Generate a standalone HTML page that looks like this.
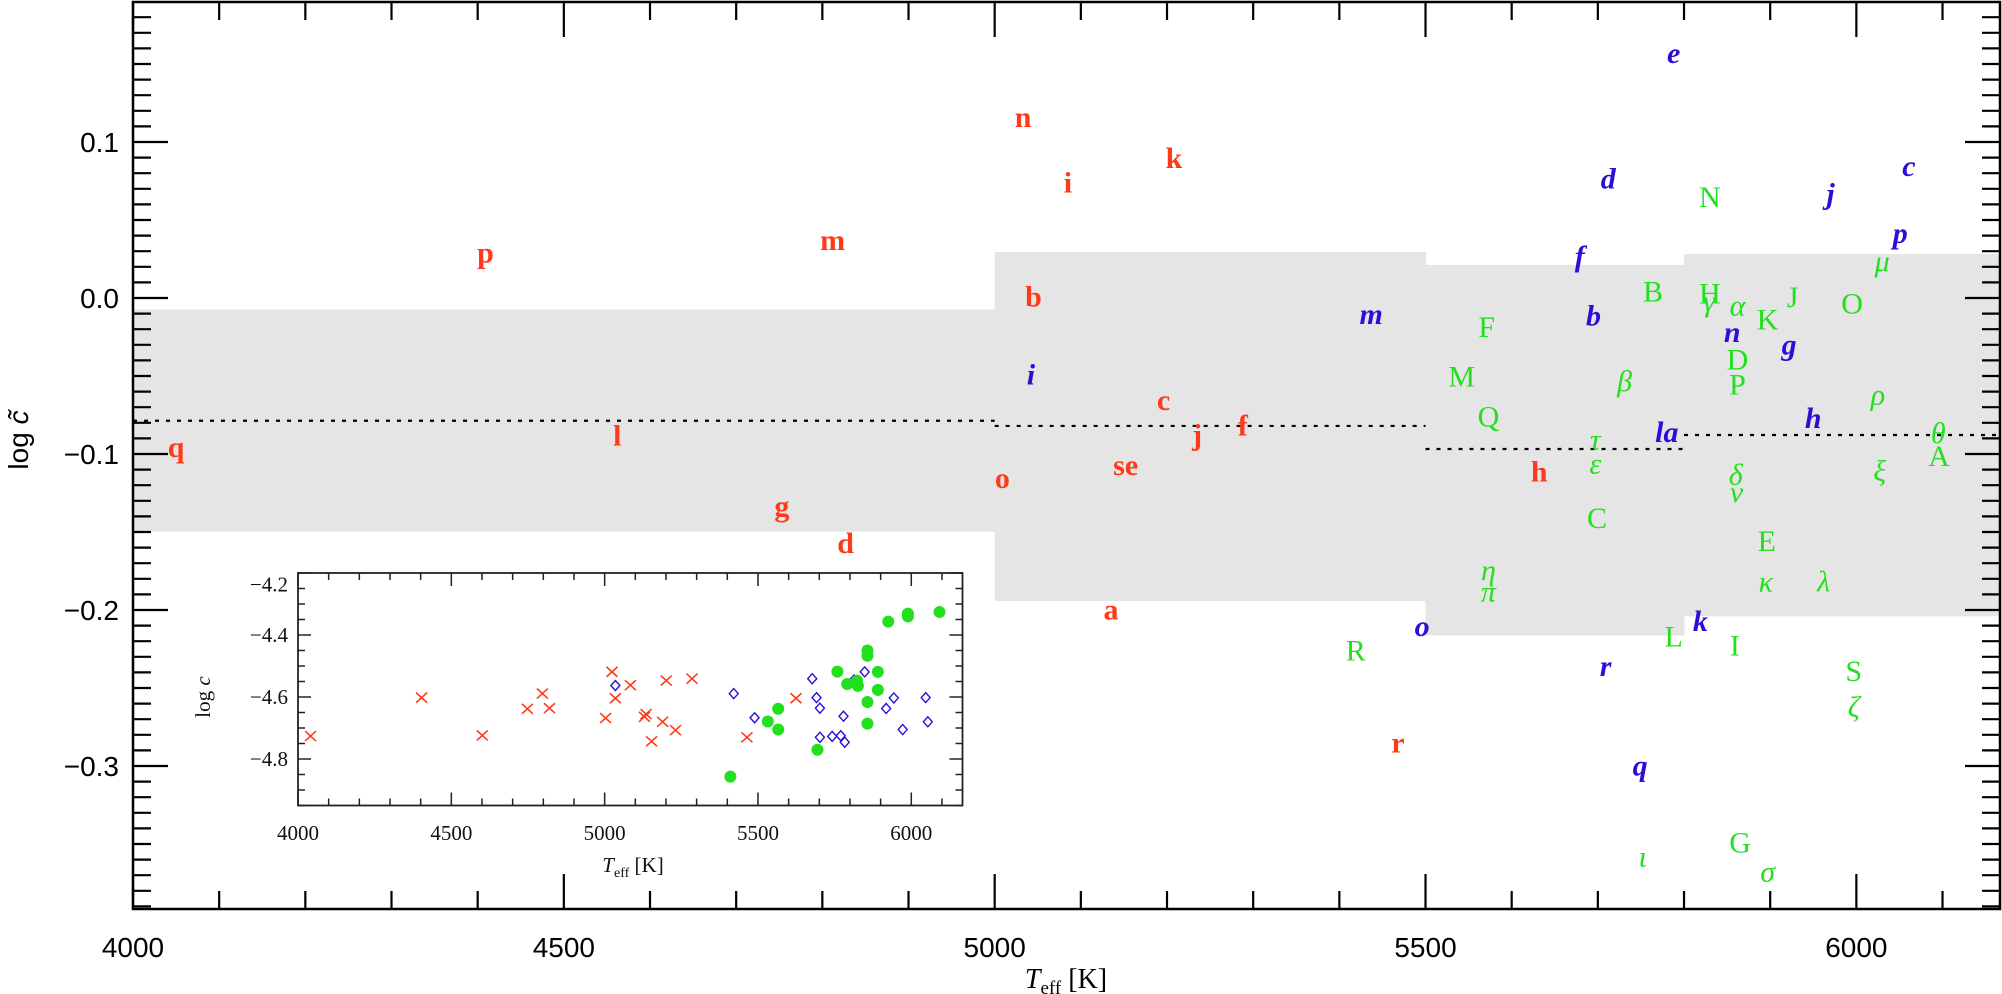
<!DOCTYPE html>
<html><head><meta charset="utf-8"><style>
html,body{margin:0;padding:0;background:#fff;}
svg{display:block;}
</style></head><body>
<svg id="chart" xmlns="http://www.w3.org/2000/svg" width="2002" height="994" viewBox="0 0 2002 994">
<g id="bands"></g>
<g id="letters"></g>
<g id="axes"></g>
<g id="inset"></g>
</svg>
<script>
// ---- main chart data ----
const bandStart=[4000,5000,5500,5800];
const bandEnd=[5000,5500,5800,6167];
const bandHigh=[-0.0074,0.0295,0.0212,0.0282];
const bandLow=[-0.1498,-0.1943,-0.2164,-0.204];
const bandMean=[-0.0787,-0.082,-0.0968,-0.0878];

const redLabels=["n","i","k","p","m","b","c","j","f","l","q","se","o","h","g","d","a","r"];
const redT=[5033,5085,5208,4409,4812,5045,5196,5235,5288,4562,4050,5152,5009,5632,4753,4827,5135,5468];
const redV=[0.1156,0.0738,0.0893,0.0287,0.0369,0.0008,-0.0656,-0.0877,-0.082,-0.0885,-0.0959,-0.1074,-0.1156,-0.1115,-0.1336,-0.1574,-0.2,-0.2852];

const blueLabels=["e","c","d","j","p","f","m","b","n","g","i","h","la","o","k","r","q"];
const blueT=[5788,6061,5712,5970,6051,5679,5437,5695,5856,5922,5042,5950,5780,5496,5819,5709,5749];
const blueV=[0.1566,0.0844,0.0762,0.0667,0.0415,0.0265,-0.0107,-0.0115,-0.0222,-0.0301,-0.0492,-0.0771,-0.0863,-0.2107,-0.2074,-0.2361,-0.3];

const greenLabels=["N","B","H","γ","α","J","O","K","μ","F","D","M","β","P","ρ","Q","θ","τ","A","ε","δ","ξ","ν","C","E","η","κ","λ","π","L","I","R","S","ζ","G","ι","σ"];
const greenT=[5830,5764,5830,5829,5862,5926,5995,5897,6030,5571,5862,5542,5731,5862,6025,5573,6095,5697,6096,5697,5860,6027,5861,5699,5896,5573,5895,5962,5573,5788,5859,5419,5997,5997,5865,5752,5897];
const greenV=[0.0645,0.004,0.0026,-0.0024,-0.0051,0.0004,-0.0038,-0.0141,0.0233,-0.0189,-0.0397,-0.0508,-0.0536,-0.0558,-0.0622,-0.0762,-0.0867,-0.091,-0.1017,-0.1064,-0.1135,-0.1113,-0.1248,-0.1412,-0.1562,-0.1746,-0.1819,-0.1819,-0.1885,-0.2172,-0.223,-0.2262,-0.2393,-0.2623,-0.3492,-0.3582,-0.368];

const xTicks=[4000,4500,5000,5500,6000];
const xTickLabels=["4000","4500","5000","5500","6000"];
const yTicks=[0.1,0.0,-0.1,-0.2,-0.3];
const yTickLabels=["0.1","0.0","\u22120.1","\u22120.2","\u22120.3"];

// ---- inset data ----
const insetRedT=[4041,4403,4601,4748,4797,4820,5003,5024,5035,5084,5130,5135,5153,5189,5201,5231,5285,5464,5624];
const insetRedV=[-4.726,-4.602,-4.724,-4.638,-4.589,-4.636,-4.668,-4.519,-4.604,-4.562,-4.664,-4.655,-4.743,-4.68,-4.547,-4.707,-4.541,-4.73,-4.604];
const insetBlueT=[5035,5421,5489,5677,5691,5702,5702,5742,5770,5779,5783,5813,5848,5918,5943,5972,6047,6054];
const insetBlueV=[-4.563,-4.589,-4.667,-4.541,-4.602,-4.636,-4.73,-4.727,-4.725,-4.662,-4.746,-4.545,-4.519,-4.637,-4.603,-4.705,-4.602,-4.68];
const insetGreenT=[5410,5532,5566,5566,5694,5759,5791,5823,5826,5857,5857,5857,5857,5891,5891,5925,5989,5989,6092];
const insetGreenV=[-4.857,-4.679,-4.638,-4.705,-4.77,-4.518,-4.558,-4.547,-4.564,-4.45,-4.467,-4.616,-4.686,-4.519,-4.577,-4.357,-4.331,-4.34,-4.326];
const insetXTicks=[4000,4500,5000,5500,6000];
const insetXLabels=["4000","4500","5000","5500","6000"];
const insetYTicks=[-4.2,-4.4,-4.6,-4.8];
const insetYLabels=["\u22124.2","\u22124.4","\u22124.6","\u22124.8"];

const NS="http://www.w3.org/2000/svg";
function mk(tag,attrs,parent){const e=document.createElementNS(NS,tag);for(const k in attrs)e.setAttribute(k,attrs[k]);parent.appendChild(e);return e;}

const L=133,R=2000,T0=2,B=909;
const xMin=4000,xMax=6166.7;
function X(t){return L+(t-xMin)*(R-L)/(xMax-xMin);}
function Y(v){return 298-v*1560;}

const bands=document.getElementById('bands');
for(let i=0;i<bandStart.length;i++){
  const r=mk('rect',{x:X(bandStart[i]),y:Y(bandHigh[i]),width:X(bandEnd[i])-X(bandStart[i])+0.5,height:Y(bandLow[i])-Y(bandHigh[i]),fill:'#e5e5e5'},bands);
  
  
}
for(let i=0;i<bandStart.length;i++){
  const l=mk('line',{x1:X(bandStart[i]),x2:X(bandEnd[i]),y1:Y(bandMean[i]),y2:Y(bandMean[i]),stroke:'#000','stroke-width':2.2,'stroke-dasharray':'4 7'},bands);
  
  
}

const letters=document.getElementById('letters');
for(let i=0;i<redLabels.length;i++){
  const t=mk('text',{x:X(redT[i]),y:Y(redV[i]),fill:'#ff3a1a','font-size':30,'text-anchor':'middle','dominant-baseline':'central','font-family':'"Liberation Serif", serif','font-weight':'bold'},letters);
  t.textContent=redLabels[i];
  
  
}
for(let i=0;i<blueLabels.length;i++){
  const t=mk('text',{x:X(blueT[i]),y:Y(blueV[i]),fill:'#2a0fd8','font-size':30,'text-anchor':'middle','dominant-baseline':'central','font-family':'"Liberation Serif", serif','font-style':'italic','font-weight':'bold'},letters);
  t.textContent=blueLabels[i];
  
  
}
const greenItalic=greenLabels.map(s=>/[\u0370-\u03ff]/.test(s));
for(let i=0;i<greenLabels.length;i++){
  const t=mk('text',{x:X(greenT[i]),y:Y(greenV[i]),fill:'#22e01e','font-size':30,'text-anchor':'middle','dominant-baseline':'central','font-family':'"Liberation Serif", serif','font-style':greenItalic[i]?'italic':'normal'},letters);
  t.textContent=greenLabels[i];
  
  
}

const axes=document.getElementById('axes');
const frame=mk('rect',{x:L,y:T0,width:R-L,height:B-T0,fill:'none',stroke:'#000','stroke-width':2.5},axes);


for(let t=4000;t<=6100;t+=100){
  const major=(t%500===0);const len=major?35:18;
  mk('line',{x1:X(t),x2:X(t),y1:B,y2:B-len,stroke:'#000','stroke-width':2.2},axes);
  mk('line',{x1:X(t),x2:X(t),y1:T0,y2:T0+len,stroke:'#000','stroke-width':2.2},axes);
}
for(let k=-39;k<=18;k++){
  const v=k/100;const major=(k%10===0);const len=major?35:18;
  if(Y(v)<T0||Y(v)>B)continue;
  mk('line',{x1:L,x2:L+len,y1:Y(v),y2:Y(v),stroke:'#000','stroke-width':2.2},axes);
  mk('line',{x1:R,x2:R-len,y1:Y(v),y2:Y(v),stroke:'#000','stroke-width':2.2},axes);
}
for(let i=0;i<xTicks.length;i++){
  const t=mk('text',{x:X(xTicks[i]),y:957,'font-size':28,'text-anchor':'middle','font-family':'"Liberation Sans", sans-serif',fill:'#000'},axes);
  t.textContent=xTickLabels[i];
  
  
}
for(let i=0;i<yTicks.length;i++){
  const t=mk('text',{x:119,y:Y(yTicks[i])+10,'font-size':28,'text-anchor':'end','font-family':'"Liberation Sans", sans-serif',fill:'#000'},axes);
  t.textContent=yTickLabels[i];
  
  
}
</script>
<script>
const axes2=document.getElementById('axes');
const xt=document.createElementNS(NS,'text');
xt.setAttribute('x',1066);xt.setAttribute('y',988);xt.setAttribute('text-anchor','middle');
xt.setAttribute('font-size',28);xt.setAttribute('font-family','"Liberation Serif", serif');
xt.innerHTML='<tspan font-style="italic">T</tspan><tspan font-size="19" dy="6">eff</tspan><tspan dy="-6"> [K]</tspan>';


axes2.appendChild(xt);
const yt=document.createElementNS(NS,'text');
yt.setAttribute('transform','translate(28,440) rotate(-90)');yt.setAttribute('text-anchor','middle');
yt.setAttribute('font-size',28);yt.setAttribute('font-family','"Liberation Sans", sans-serif');
yt.innerHTML='log <tspan font-style="italic">c\u0303</tspan>';


axes2.appendChild(yt);

const ins=document.getElementById('inset');
const iL=298,iR=962.5,iT=573,iB=805.5;
const ixMin=4000,ixMax=6167,iyTop=-4.2,iyBot=-4.95;
function IX(t){return iL+(t-ixMin)*(iR-iL)/(ixMax-ixMin);}
function IY(v){return iT+(iyTop-v)*(iB-iT)/(iyTop-iyBot);}
const bg=mk('rect',{x:iL,y:iT,width:iR-iL,height:iB-iT,fill:'#fff',stroke:'#222','stroke-width':1.8},ins);


for(let t=4000;t<=6100;t+=100){
  const len=(t%500===0)?13:7;
  mk('line',{x1:IX(t),x2:IX(t),y1:iB,y2:iB-len,stroke:'#222','stroke-width':1.5},ins);
  mk('line',{x1:IX(t),x2:IX(t),y1:iT,y2:iT+len,stroke:'#222','stroke-width':1.5},ins);
}
for(let k=0;k<=15;k++){
  const v=-4.2-k*0.05;const len=(k%4===0)?13:7;
  mk('line',{x1:iL,x2:iL+len,y1:IY(v),y2:IY(v),stroke:'#222','stroke-width':1.5},ins);
  mk('line',{x1:iR,x2:iR-len,y1:IY(v),y2:IY(v),stroke:'#222','stroke-width':1.5},ins);
}
for(let i=0;i<insetXTicks.length;i++){
  const t=mk('text',{x:IX(insetXTicks[i]),y:840,'font-size':21,'text-anchor':'middle','font-family':'"Liberation Serif", serif',fill:'#111'},ins);
  t.textContent=insetXLabels[i];
  
  
}
for(let i=0;i<insetYTicks.length;i++){
  const yy=(i===0)?IY(-4.25)-4:IY(insetYTicks[i]);
  const t=mk('text',{x:288,y:yy+7,'font-size':21,'text-anchor':'end','font-family':'"Liberation Serif", serif',fill:'#111'},ins);
  t.textContent=insetYLabels[i];
  
  
}
const ixt=mk('text',{x:633,y:872,'font-size':21,'text-anchor':'middle','font-family':'"Liberation Serif", serif',fill:'#111'},ins);
ixt.innerHTML='<tspan font-style="italic">T</tspan><tspan font-size="14" dy="5">eff</tspan><tspan dy="-5"> [K]</tspan>';


const iyt=mk('text',{transform:'translate(210,697) rotate(-90)','font-size':21,'text-anchor':'middle','font-family':'"Liberation Serif", serif',fill:'#111'},ins);
iyt.innerHTML='log <tspan font-style="italic">c</tspan>';



for(let i=0;i<insetRedT.length;i++){
  const x=IX(insetRedT[i]),y=IY(insetRedV[i]);
  const p=mk('path',{d:`M${x-5.5} ${y-5}L${x+5.5} ${y+5}M${x-5.5} ${y+5}L${x+5.5} ${y-5}`,stroke:'#ff3a1a','stroke-width':1.6,fill:'none'},ins);
  
  
}
for(let i=0;i<insetBlueT.length;i++){
  const x=IX(insetBlueT[i]),y=IY(insetBlueV[i]);
  const p=mk('path',{d:`M${x} ${y-5}L${x+4.5} ${y}L${x} ${y+5}L${x-4.5} ${y}Z`,stroke:'#2a0fd8','stroke-width':1.4,fill:'none'},ins);
  
  
}
for(let i=0;i<insetGreenT.length;i++){
  const c=mk('ellipse',{cx:IX(insetGreenT[i]),cy:IY(insetGreenV[i]),rx:6,ry:6,fill:'#22e01e'},ins);
  
  
}
</script>
</body></html>
